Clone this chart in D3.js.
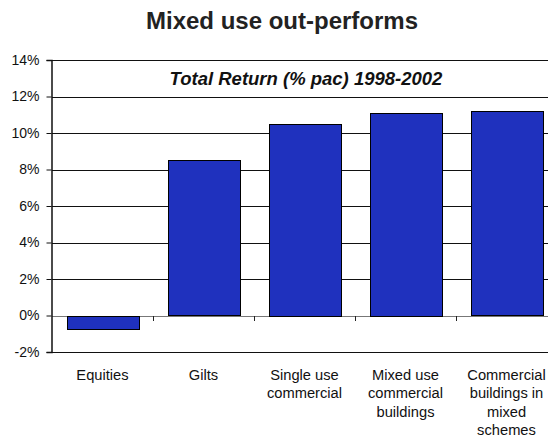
<!DOCTYPE html>
<html>
<head>
<meta charset="utf-8">
<script src="https://cdn.jsdelivr.net/npm/d3@7"></script>
<style>
    body { margin: 0; background: #fff; }
    svg { display: block; font-family: "Liberation Sans", Arial, sans-serif; }
</style>
</head>
<body>
<div id="chart"></div>
<script>
    const categories = ["Equities", "Gilts", "Single use commercial", "Mixed use commercial buildings", "Commercial buildings in mixed schemes"]
    const labelLines = [["Equities"], ["Gilts"], ["Single use", "commercial"], ["Mixed use", "commercial", "buildings"], ["Commercial", "buildings in", "mixed", "schemes"]]
    const returns = [-0.7, 8.5, 10.5, 11.1, 11.2]
    const yTicks = [-2, 0, 2, 4, 6, 8, 10, 12, 14]

    const width = 548
    const height = 438
    const plotLeft = 52
    const plotRight = 557
    const plotTop = 60
    const plotBottom = 352

    const svg = d3.select("#chart").append("svg")
        .attr("width", width)
        .attr("height", height)

    const x = d3.scaleBand()
        .domain(categories)
        .range([plotLeft, plotRight])
        .paddingInner(0.29)
        .paddingOuter(0.145)

    const y = d3.scaleLinear()
        .domain([-2, 14])
        .range([plotBottom, plotTop])

    // gridlines
    svg.append("g")
        .selectAll("line")
        .data(yTicks)
        .join("line")
        .attr("x1", plotLeft)
        .attr("x2", width)
        .attr("y1", d => Math.round(y(d)) + 0.5)
        .attr("y2", d => Math.round(y(d)) + 0.5)
        .attr("stroke", d => d === 0 ? "#777" : "#111")
        .attr("stroke-width", 1)

    // subtitle inside plot top
    svg.append("text")
        .attr("x", 306)
        .attr("y", 85)
        .attr("text-anchor", "middle")
        .attr("font-size", "18.5px")
        .attr("font-weight", "bold")
        .attr("font-style", "italic")
        .attr("fill", "#111")
        .text("Total Return (% pac) 1998-2002")

    // bars
    svg.append("g")
        .selectAll("rect")
        .data(returns)
        .join("rect")
        .attr("x", (d, i) => Math.round(x(categories[i])) + 0.5)
        .attr("width", Math.round(x.bandwidth()))
        .attr("y", d => Math.round(y(Math.max(0, d))) + 0.5)
        .attr("height", d => Math.round(Math.abs(y(d) - y(0))))
        .attr("fill", "#1f31be")
        .attr("stroke", "#000")
        .attr("stroke-width", 1)

    // x axis ticks at category boundaries
    const step = x.step()
    svg.append("g")
        .selectAll("line")
        .data(d3.range(1, categories.length))
        .join("line")
        .attr("x1", i => Math.round(plotLeft + step * i) + 0.5)
        .attr("x2", i => Math.round(plotLeft + step * i) + 0.5)
        .attr("y1", Math.round(y(0)))
        .attr("y2", Math.round(y(0)) + 5)
        .attr("stroke", "#222")

    // y axis
    const yAxis = svg.append("g")
        .attr("transform", `translate(${plotLeft - 0.5},0)`)
        .call(d3.axisLeft(y).tickValues(yTicks).tickSize(5).tickPadding(7).tickFormat(d => d + "%"))
    yAxis.select(".domain").attr("stroke", "#111").attr("stroke-width", 1.5)
    yAxis.selectAll(".tick line").attr("stroke", "#111")
    yAxis.selectAll(".tick text")
        .attr("font-size", "14px")
        .attr("font-family", "Liberation Sans, Arial, sans-serif")
        .attr("fill", "#111")

    // category labels
    const labels = svg.append("g")
        .selectAll("text")
        .data(categories)
        .join("text")
        .attr("text-anchor", "middle")
        .attr("font-size", "14.7px")
        .attr("fill", "#111")
    labels.selectAll("tspan")
        .data((d, i) => labelLines[i].map(t => ({ t, c: x(d) + x.bandwidth() / 2 })))
        .join("tspan")
        .attr("x", d => d.c)
        .attr("y", (d, j) => 380 + j * 18.3)
        .text(d => d.t)

    // title
    svg.append("text")
        .attr("x", 282)
        .attr("y", 29)
        .attr("text-anchor", "middle")
        .attr("font-size", "24px")
        .attr("font-weight", "bold")
        .attr("fill", "#222")
        .text("Mixed use out-performs")
</script>
</body>
</html>
